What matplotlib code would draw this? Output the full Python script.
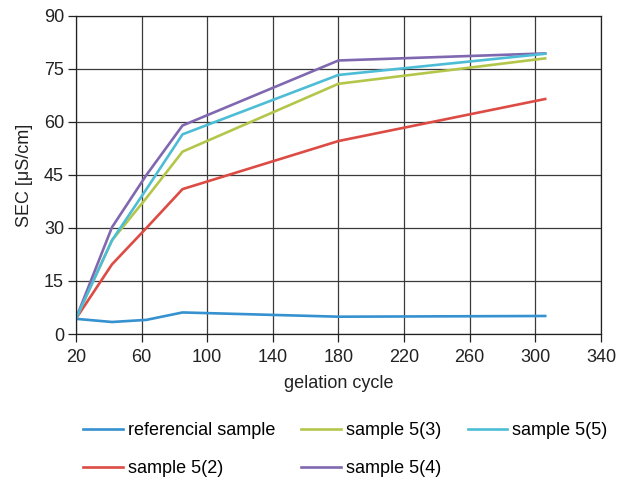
import matplotlib.pyplot as plt

plt.rcParams['font.family'] = ['Liberation Sans', 'DejaVu Sans']

cycles = [20, 42, 63, 85, 180, 306]
ref = [4.3, 3.4, 4.0, 6.1, 4.9, 5.1]
s52 = [4.3, 19.7, 30.0, 41.0, 54.6, 66.5]
s53 = [4.3, 26.5, 38.5, 51.6, 70.8, 78.0]
s54 = [4.3, 30.2, 45.0, 59.0, 77.4, 79.4]
s55 = [4.3, 26.5, 41.0, 56.5, 73.3, 79.3]

xticks = list(range(20, 341, 40))
yticks = list(range(0, 91, 15))

fs = 13
fig = plt.figure(figsize=(6.27, 4.79), dpi=100)
ax = fig.add_axes([0.121, 0.3027, 0.8375, 0.664])

lw = 1.9
ax.plot(cycles, ref, color='#3591cf', lw=lw, label='referencial sample')
ax.plot(cycles, s52, color='#dd4b45', lw=lw, label='sample 5(2)')
ax.plot(cycles, s53, color='#b4c64a', lw=lw, label='sample 5(3)')
ax.plot(cycles, s54, color='#8068b0', lw=lw, label='sample 5(4)')
ax.plot(cycles, s55, color='#4dbdd6', lw=lw, label='sample 5(5)')

ax.set_xlim(20, 340)
ax.set_ylim(0, 90)
ax.set_xticks(xticks)
ax.set_yticks(yticks)
ax.grid(True, color='#3a3a3a', lw=0.9)
ax.set_axisbelow(True)
for s in ax.spines.values():
    s.set_color('#222222')
    s.set_linewidth(0.9)
ax.tick_params(labelsize=fs, colors='#222222', length=5.5, width=0.9, pad=3)
ax.tick_params(axis='x', pad=5)
ax.set_xlabel('gelation cycle', fontsize=fs, color='#222222', labelpad=7)
ax.set_ylabel('SEC [μS/cm]', fontsize=fs, color='#222222', labelpad=8)

fig.legend(ncol=3, loc='upper left', bbox_to_anchor=(0.121, 0.1336), frameon=False,
           fontsize=fs, handlelength=2.2, handletextpad=0.28, columnspacing=1.45,
           labelspacing=1.17, borderaxespad=0)

fig.savefig('out.png', dpi=100)
